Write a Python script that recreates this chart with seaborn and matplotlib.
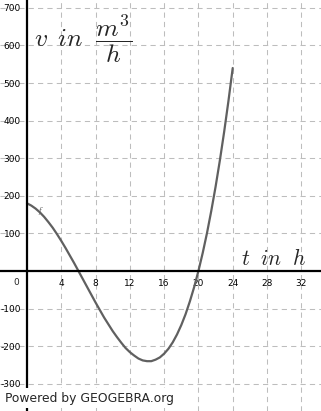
import matplotlib
matplotlib.use("Agg")
import matplotlib.pyplot as plt
import seaborn as sns
import pandas as pd

# data (half-hour steps)
t_hours = [i * 0.5 for i in range(0, 49)]
v_values = [180, 174, 166, 156, 144, 130, 115, 98, 80, 61, 41, 21, 0,
            -21, -42, -63, -84, -104, -124, -142, -160, -176, -191, -205,
            -216, -225, -233, -238, -240, -240, -236, -230, -220, -207,
            -190, -169, -144, -115, -81, -43, 0, 48, 101, 160, 224, 294,
            370, 452, 540]
x_ticks = [4, 8, 12, 16, 20, 24, 28, 32]
y_ticks = [-300, -200, -100, 100, 200, 300, 400, 500, 600, 700]

sns.set_style("white")
plt.rcParams['font.family'] = ['DejaVu Sans']
plt.rcParams['axes.unicode_minus'] = False
plt.rcParams['mathtext.fontset'] = 'cm'

fig = plt.figure(figsize=(3.21, 4.11), dpi=100)
ax = fig.add_axes([0, 0, 1, 1])
ax.set_xlim(-3.15, 34.3)
ax.set_ylim(-372.6, 721)

grid_kw = dict(color='#bdbdbd', lw=0.75, linestyle=(0, (5, 4)), zorder=0)
for gx in [0] + x_ticks:
    ax.axvline(gx, **grid_kw)
for gy in [0] + y_ticks:
    ax.axhline(gy, **grid_kw)

df = pd.DataFrame({"t": t_hours, "v": v_values})
sns.lineplot(data=df, x="t", y="v", ax=ax, color='#606060', lw=1.6, zorder=3)

for side in ['top', 'right']:
    ax.spines[side].set_visible(False)
ax.spines['left'].set_position(('data', 0))
ax.spines['bottom'].set_position(('data', 0))
for side in ['left', 'bottom']:
    ax.spines[side].set_linewidth(1.6)
    ax.spines[side].set_color('black')
    ax.spines[side].set_zorder(4)

ax.set_xticks(x_ticks)
ax.set_yticks(y_ticks)
ax.set_xticklabels([str(v) for v in x_ticks])
ax.set_yticklabels([str(v) for v in y_ticks])
ax.tick_params(axis='both', length=2, width=0.8, direction='out', labelsize=6.5,
               colors='black')
ax.tick_params(axis='x', pad=3.5)
ax.tick_params(axis='y', pad=2.5)
ax.set_xlabel("")
ax.set_ylabel("")

ax.text(-1.2, -18, "0", fontsize=6.5, ha='center', va='top')
ax.text(1.3, 150, "f", fontsize=5, color='#606060', ha='left', va='bottom',
        family='DejaVu Serif', style='italic')

ax.text(0.85, 617, r'$v\ \,in\ \;\dfrac{m^3}{h}$', fontsize=18.5,
        ha='left', va='center')
ax.text(25.0, 16, r'$t\ \;in\ \;h$', fontsize=15.5, ha='left', va='baseline')

fig.text(5 / 321, 1 - 398 / 411, "Powered by GEOGEBRA.org", fontsize=8.9,
         ha='left', va='center', zorder=10,
         bbox=dict(facecolor='white', edgecolor='none', pad=2.5))

fig.savefig("out.png", dpi=100)
